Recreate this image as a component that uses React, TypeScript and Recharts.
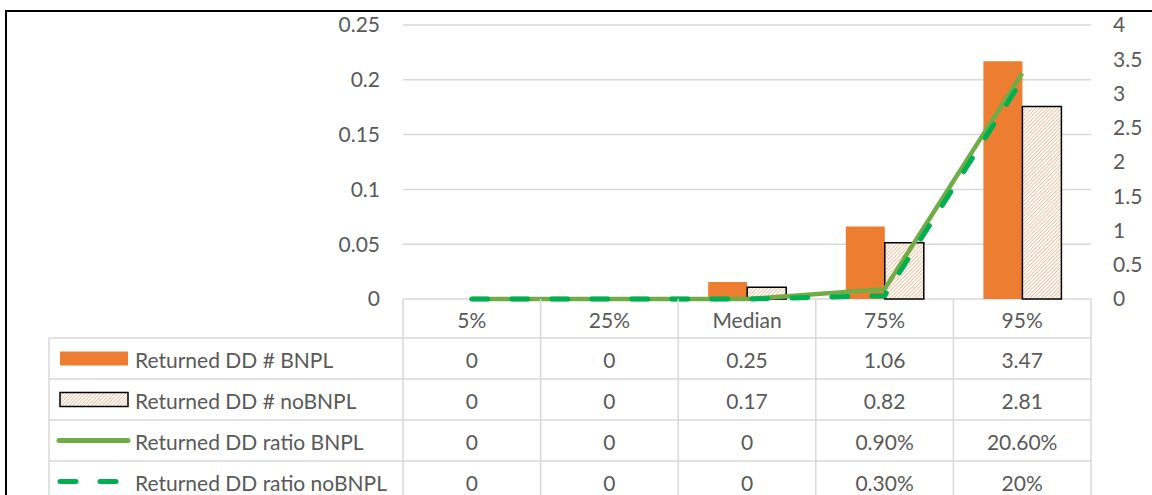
import { ComposedChart, Bar, Line, XAxis, YAxis, CartesianGrid } from 'recharts'

const categories = ['5%', '25%', 'Median', '75%', '95%']
const ddBnpl = [0, 0, 0.25, 1.06, 3.47]
const ddNoBnpl = [0, 0, 0.17, 0.82, 2.81]
const ratioBnpl = [0, 0, 0, 0.009, 0.206]
const ratioNoBnpl = [0, 0, 0, 0.003, 0.2]
const ratioBnplLabels = ['0', '0', '0', '0.90%', '20.60%']
const ratioNoBnplLabels = ['0', '0', '0', '0.30%', '20%']
const seriesNames = [
  'Returned DD # BNPL',
  'Returned DD # noBNPL',
  'Returned DD ratio BNPL',
  'Returned DD ratio noBNPL',
]
const leftTicks = [0, 0.05, 0.1, 0.15, 0.2, 0.25]
const rightTicks = [0, 0.5, 1, 1.5, 2, 2.5, 3, 3.5, 4]

const data = categories.map((name, i) => ({
  name,
  ddBnpl: ddBnpl[i],
  ddNoBnpl: ddNoBnpl[i],
  ratioBnpl: ratioBnpl[i],
  ratioNoBnpl: ratioNoBnpl[i],
}))

const W = 1152
const H = 495
const LEFT_AXIS_W = 403
const RIGHT_AXIS_W = 61
const PLOT_W = W - LEFT_AXIS_W - RIGHT_AXIS_W
const HEAD_H = 39
const ROW_H = 41
const TABLE_LEFT = 49
const GRID = '#D9D9D9'
const TEXT = '#595959'
const FONT = 'Lato, "Open Sans", sans-serif'
const FS = 21
const ORANGE = '#ED7D31'
const LINE_SOLID = '#70AD47'
const LINE_DASH = '#00B050'

const rowLabels = [
  ddBnpl.map(String),
  ddNoBnpl.map(String),
  ratioBnplLabels,
  ratioNoBnplLabels,
]

// legend key drawn in the left column of the data table
function LegendKey({ row, cy }: { row: number; cy: number }) {
  if (row === 0) return <rect x={60} y={cy - 7} width={68} height={14} fill={ORANGE} />
  if (row === 1)
    return <rect x={60} y={cy - 7} width={68} height={14} fill="url(#hatch)" stroke="#000" strokeWidth={1.5} />
  if (row === 2)
    return <line x1={59} x2={128} y1={cy} y2={cy} stroke={LINE_SOLID} strokeWidth={5} strokeLinecap="round" />
  return (
    <line x1={60} x2={128} y1={cy} y2={cy} stroke={LINE_DASH} strokeWidth={5}
      strokeLinecap="round" strokeDasharray="16 24" />
  )
}

// eslint-disable-next-line @typescript-eslint/no-explicit-any
const TableTick = (props: any) => {
  const { x, y, payload, index } = props
  const n = props.visibleTicksCount || categories.length
  const colW = PLOT_W / n
  const left = x - colW / 2
  const right = x + colW / 2
  const bottom = H + 10
  return (
    <g fontFamily={FONT} fontSize={FS} fill={TEXT}>
      <line x1={left} x2={left} y1={y} y2={bottom} stroke={GRID} strokeWidth={1.5} />
      {index === n - 1 && <line x1={right} x2={right} y1={y} y2={bottom} stroke={GRID} strokeWidth={1.5} />}
      <text x={x} y={y + HEAD_H / 2 + 1} textAnchor="middle" dominantBaseline="central">
        {payload.value}
      </text>
      {rowLabels.map((vals, r) => {
        const top = y + HEAD_H + r * ROW_H
        return (
          <g key={r}>
            <line x1={left} x2={right} y1={top} y2={top} stroke={GRID} strokeWidth={1.5} />
            <text x={x} y={top + ROW_H / 2 + 1} textAnchor="middle" dominantBaseline="central">
              {vals[index]}
            </text>
          </g>
        )
      })}
      {index === 0 && (
        <g>
          <line x1={TABLE_LEFT} x2={TABLE_LEFT} y1={y + HEAD_H} y2={bottom} stroke={GRID} strokeWidth={1.5} />
          {seriesNames.map((s, r) => {
            const top = y + HEAD_H + r * ROW_H
            const cy = top + ROW_H / 2
            return (
              <g key={s}>
                <line x1={TABLE_LEFT} x2={left} y1={top} y2={top} stroke={GRID} strokeWidth={1.5} />
                <LegendKey row={r} cy={cy} />
                <text x={135} y={cy + 1} dominantBaseline="central">{s}</text>
              </g>
            )
          })}
        </g>
      )}
    </g>
  )
}

export default function App() {
  return (
    <div style={{ position: 'absolute', left: 0, top: 0, width: W, height: H, background: '#fff', overflow: 'hidden' }}>
      <div style={{ position: 'absolute', left: 5, top: 10, width: W, height: H, borderLeft: '2px solid #000', borderTop: '2px solid #000' }} />
      <div style={{ position: 'absolute', left: 0, top: 0 }}>
        <ComposedChart width={W} height={H} data={data} margin={{ top: 25, right: 0, bottom: 0, left: 0 }} barGap={0}>
          <defs>
            <pattern id="hatch" width="2.6" height="2.6" patternUnits="userSpaceOnUse" patternTransform="rotate(45)">
              <rect width="2.6" height="2.6" fill="#FFFFFF" />
              <line x1="0" y1="0" x2="0" y2="2.6" stroke="#F4B183" strokeWidth="1.5" />
            </pattern>
          </defs>
          <CartesianGrid yAxisId="left" vertical={false} stroke={GRID} strokeWidth={1.5} />
          <XAxis
            dataKey="name"
            height={196}
            interval={0}
            tickLine={false}
            axisLine={false}
            tickSize={0}
            tickMargin={0}
            tick={<TableTick />}
          />
          <YAxis
            yAxisId="left"
            width={LEFT_AXIS_W}
            domain={[0, 0.25]}
            ticks={leftTicks}
            tickLine={false}
            axisLine={false}
            tickMargin={17}
            tick={{ fill: TEXT, fontSize: FS, fontFamily: FONT }}
          />
          <YAxis
            yAxisId="right"
            orientation="right"
            width={RIGHT_AXIS_W}
            domain={[0, 4]}
            ticks={rightTicks}
            tickLine={false}
            axisLine={false}
            tickMargin={16}
            tick={{ fill: TEXT, fontSize: FS, fontFamily: FONT, textAnchor: 'start' }}
          />
          <Bar yAxisId="right" dataKey="ddBnpl" name={seriesNames[0]} fill={ORANGE} barSize={39} isAnimationActive={false} />
          <Bar yAxisId="right" dataKey="ddNoBnpl" name={seriesNames[1]} fill="url(#hatch)" stroke="#000" strokeWidth={1.5}
            barSize={39} isAnimationActive={false} />
          <Line yAxisId="left" dataKey="ratioBnpl" name={seriesNames[2]} stroke={LINE_SOLID} strokeWidth={4.5}
            dot={false} isAnimationActive={false} />
          <Line yAxisId="left" dataKey="ratioNoBnpl" name={seriesNames[3]} stroke={LINE_DASH} strokeWidth={5}
            strokeLinecap="round" strokeDasharray="16 24" dot={false} isAnimationActive={false} />
        </ComposedChart>
      </div>
    </div>
  )
}
